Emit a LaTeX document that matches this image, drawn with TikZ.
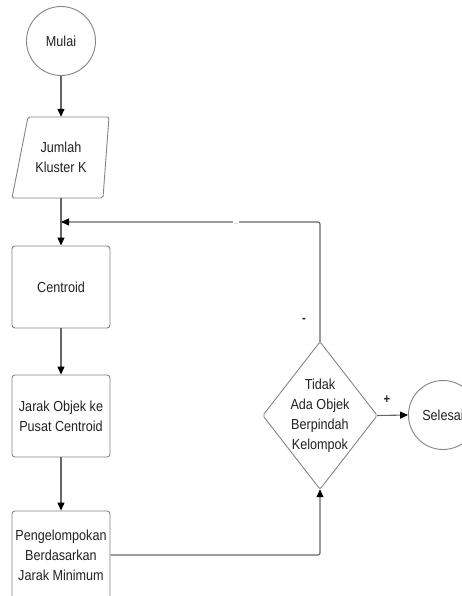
\documentclass[tikz,border=0pt]{standalone}
\usepackage{fontspec}
\setmainfont{Liberation Sans}[FakeStretch=0.87]
\usetikzlibrary{arrows.meta}
\definecolor{linec}{HTML}{666666}
\definecolor{boxc}{HTML}{858585}
\definecolor{txtc}{HTML}{222222}
\tikzset{
  x=1pt, y=-1pt,
  every node/.style={font=\fontsize{14.5}{20}\selectfont, text=txtc, align=center},
  proc/.style={draw=boxc, line width=0.9pt, rounded corners=3pt, minimum width=98pt, inner sep=1pt},
  term/.style={draw=boxc, line width=0.9pt, circle, minimum size=69pt, inner sep=0pt},
  ghost/.style={draw=none, inner sep=0pt},
  outline/.style={draw=boxc, line width=0.9pt, rounded corners=2pt},
  flow/.style={draw=linec, line width=1.1pt, -{Triangle[length=8pt,width=7pt,color=black]}, rounded corners=2pt},
  lbl/.style={font=\fontsize{13}{13}\bfseries\selectfont, text=txtc}
}
\begin{document}
\begin{tikzpicture}
\useasboundingbox (0,0) rectangle (462,596);
\fill[white] (0,0) rectangle (462,596);

\node[term] (mulai) at (61,41) {Mulai};

\node[ghost, minimum width=82pt, minimum height=81pt] (jk) at (61,157.5) {Jumlah\\Kluster K};
\draw[outline] (28,117) -- (109,117) -- (103,198) -- (12,198) -- cycle;

\node[proc, minimum height=82pt] (cen) at (61,287) {Centroid};
\node[proc, minimum height=82pt] (jar) at (61,416) {Jarak Objek ke\\Pusat Centroid};
\node[proc, minimum height=88pt] (pk) at (61,555) {Pengelompokan\\Berdasarkan\\Jarak Minimum};

\node[ghost, minimum width=114pt, minimum height=147pt] (dec) at (320,415.5) {Tidak\\Ada Objek\\Berpindah\\Kelompok};
\draw[outline] (dec.north) -- (dec.east) -- (dec.south) -- (dec.west) -- cycle;

\node[term] (sel) at (443,415) {Selesai};

\coordinate (merge) at (61,222);

\draw[flow] (mulai) -- (jk.north);
\draw[flow] (jk.south) -- (cen.north);
\draw[flow] (cen) -- (jar);
\draw[flow] (jar) -- (pk);
\draw[flow] (pk.east) -| (dec.south);
\draw[flow] (dec.east) -- (sel.west);
\draw[flow] (dec.north) |- (merge);

\node[lbl] (minus) at (304,320) {-};
\node[lbl] (plus) at (387,400) {+};
\node[fill=white, inner sep=1pt, font=\fontsize{8}{8}\selectfont, text=gray!50] (gap) at (236,223) {\_};
\end{tikzpicture}
\end{document}
